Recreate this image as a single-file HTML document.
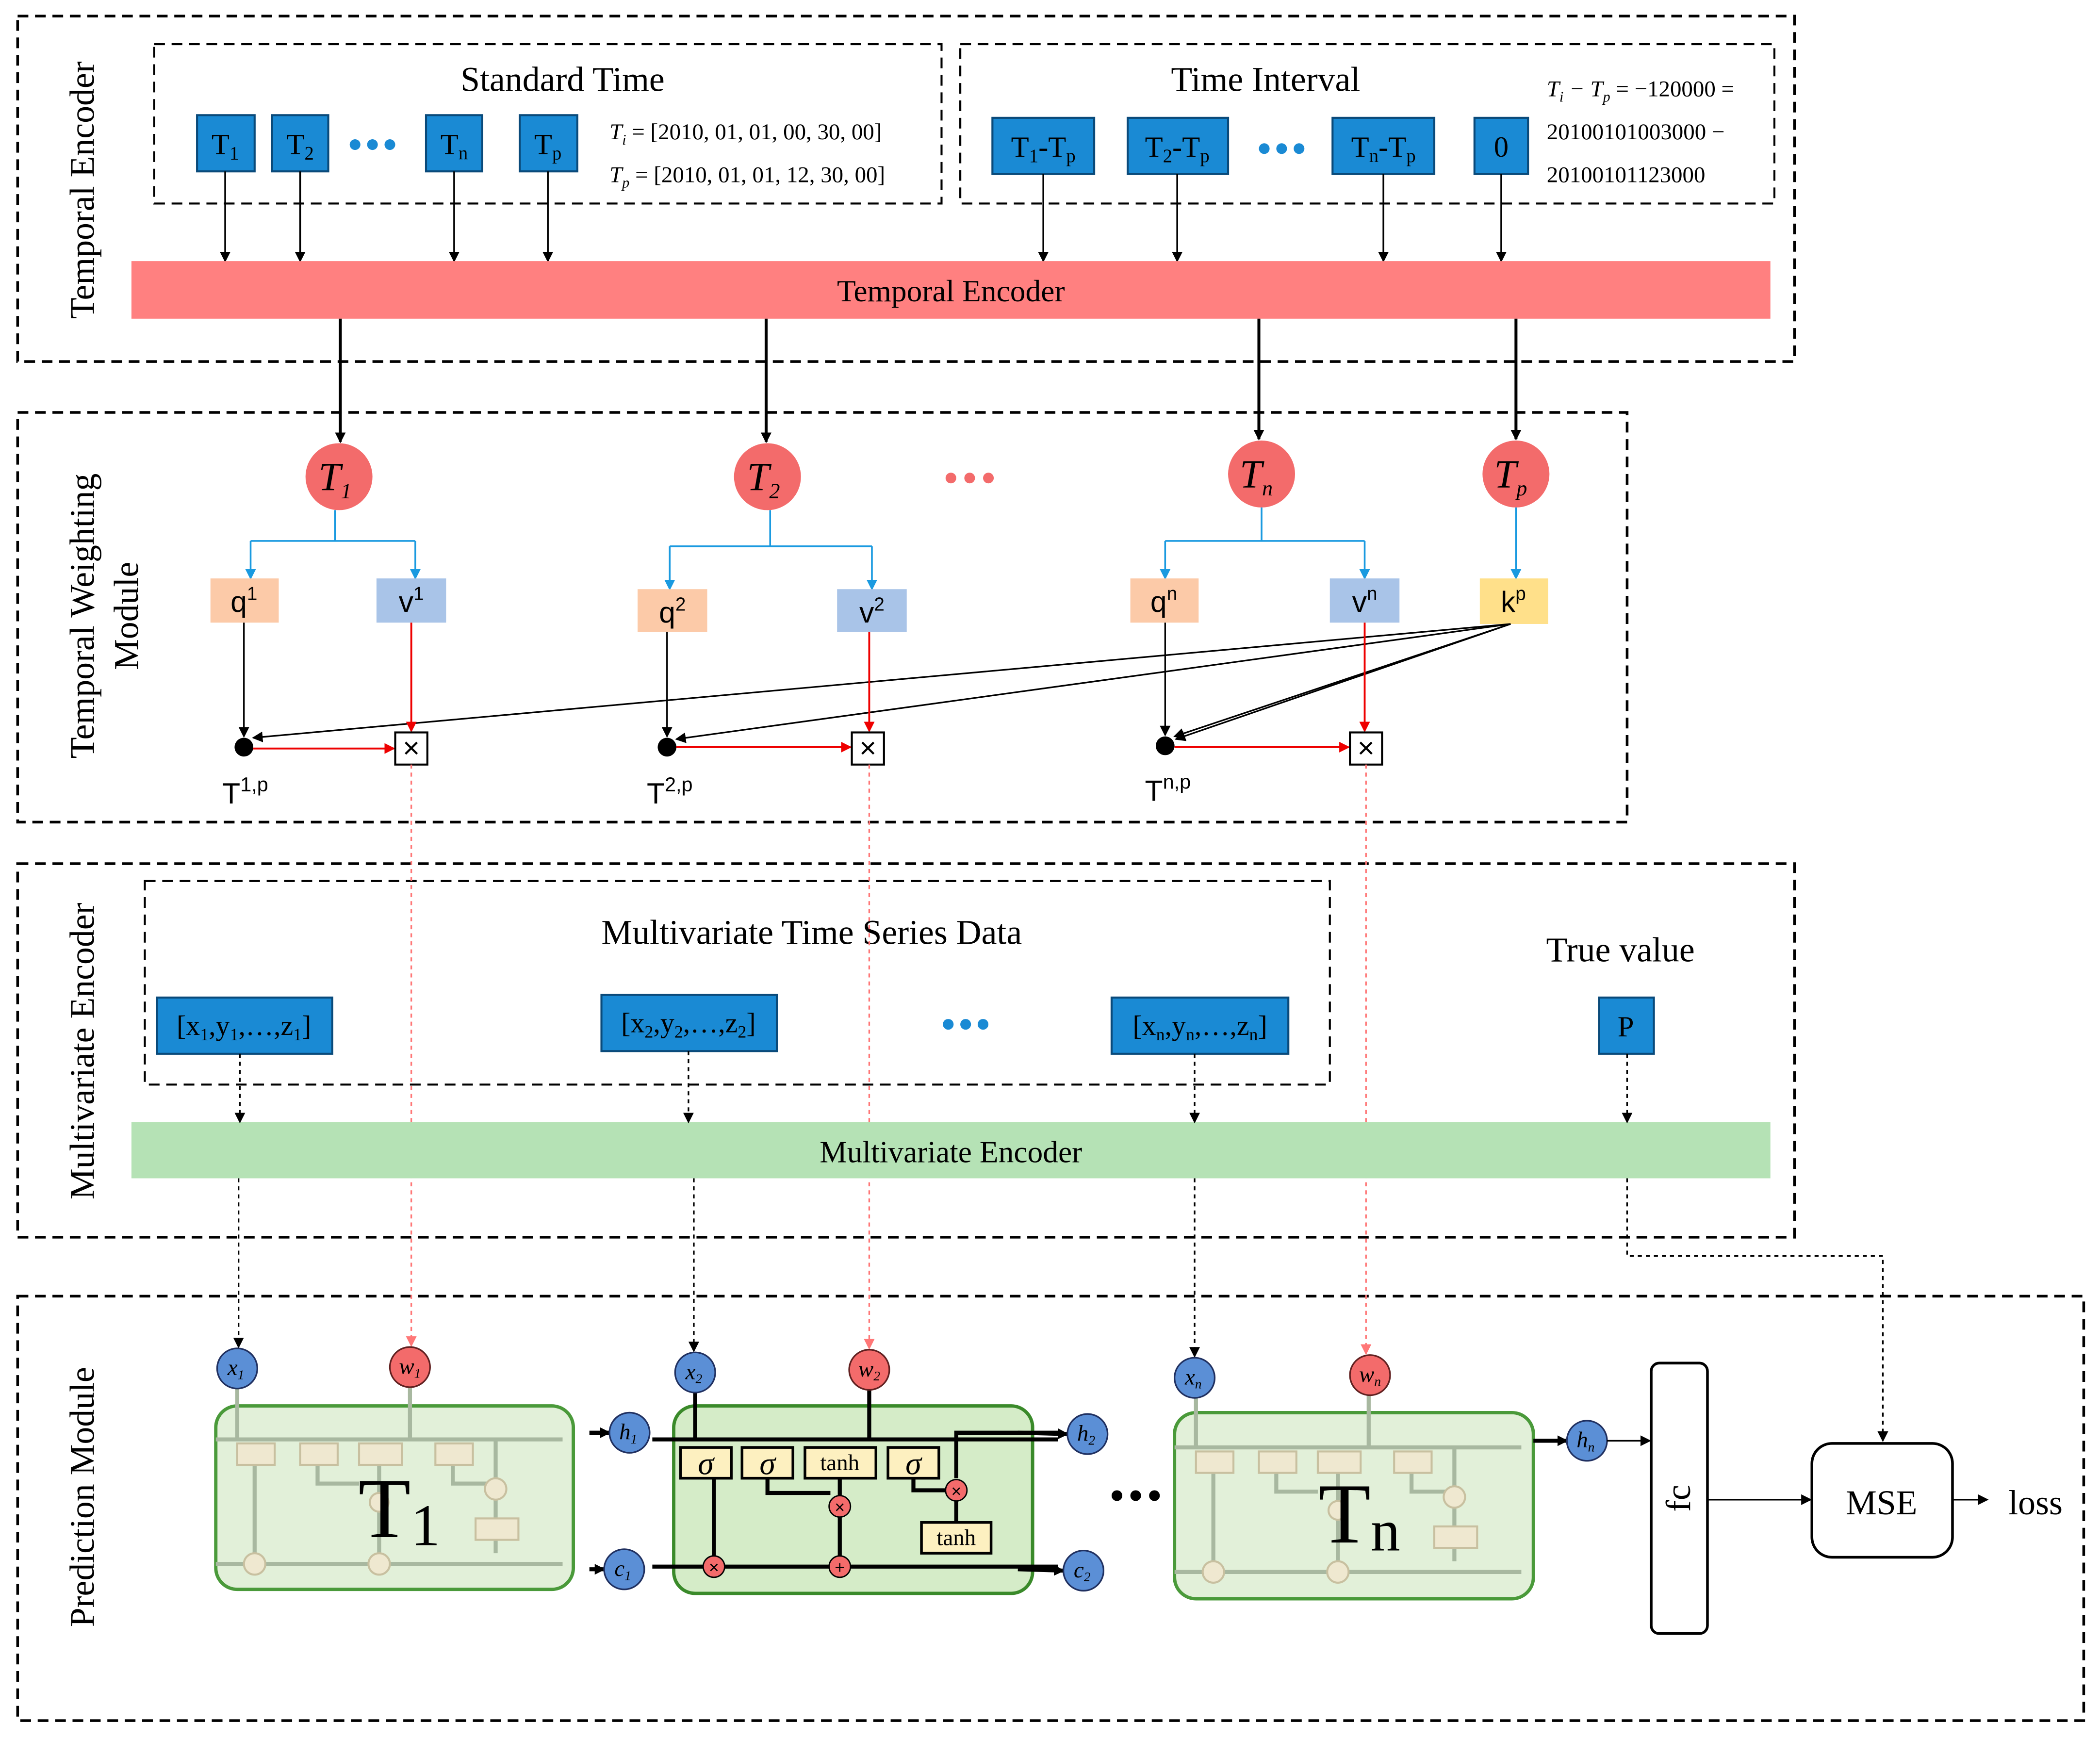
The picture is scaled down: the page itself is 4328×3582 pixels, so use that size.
<!DOCTYPE html>
<html><head><meta charset="utf-8"><style>
html,body{margin:0;padding:0;background:#fff}
svg{display:block}
text{font-family:"Liberation Serif",serif}
.s{font-family:"Liberation Sans",sans-serif}
</style></head><body>
<svg width="4328" height="3582" viewBox="0 0 1568 1298" xmlns="http://www.w3.org/2000/svg">
<defs>
<marker id="ab" markerWidth="8" markerHeight="8" refX="7" refY="4" orient="auto" markerUnits="userSpaceOnUse"><path d="M0,0 L8,4 L0,8 Z" fill="#000"/></marker>
<marker id="ar" markerWidth="8" markerHeight="8" refX="7" refY="4" orient="auto" markerUnits="userSpaceOnUse"><path d="M0,0 L8,4 L0,8 Z" fill="#e00"/></marker>
<marker id="al" markerWidth="8" markerHeight="8" refX="7" refY="4" orient="auto" markerUnits="userSpaceOnUse"><path d="M0,0 L8,4 L0,8 Z" fill="#f77"/></marker>
<marker id="abl" markerWidth="8" markerHeight="8" refX="7" refY="4" orient="auto" markerUnits="userSpaceOnUse"><path d="M0,0 L8,4 L0,8 Z" fill="#1a9ae0"/></marker>
</defs>
<g fill="none" stroke="#000" stroke-width="2" stroke-dasharray="8,5">
<rect x="13" y="12" width="1327" height="258"/>
<rect x="13" y="308" width="1202" height="306"/>
<rect x="13" y="645" width="1327" height="279"/>
<rect x="13" y="968" width="1543" height="317"/>
<rect x="115" y="33" width="588" height="119" stroke-width="1.5"/>
<rect x="717" y="33" width="608" height="119" stroke-width="1.5"/>
<rect x="108" y="658" width="885" height="152" stroke-width="1.5"/>
</g>
<g font-size="26" text-anchor="middle">
<text transform="translate(70,142) rotate(-90)">Temporal Encoder</text>
<text transform="translate(70,460) rotate(-90)">Temporal Weighting</text>
<text transform="translate(103,460) rotate(-90)">Module</text>
<text transform="translate(70,785) rotate(-90)">Multivariate Encoder</text>
<text transform="translate(70,1118) rotate(-90)">Prediction Module</text>
<text x="420" y="68">Standard Time</text>
<text x="945" y="68">Time Interval</text>
<text x="606" y="705">Multivariate Time Series Data</text>
<text x="1210" y="718">True value</text>
</g>
<g fill="#1a8ad4" stroke="#0a4a7a" stroke-width="1.5">
<rect x="147" y="86" width="43" height="42"/><rect x="203" y="86" width="42" height="42"/>
<rect x="318" y="86" width="42" height="42"/><rect x="388" y="86" width="43" height="42"/>
<rect x="741" y="88" width="76" height="42"/><rect x="842" y="88" width="75" height="42"/>
<rect x="995" y="88" width="76" height="42"/><rect x="1101" y="88" width="40" height="42"/>
<rect x="117" y="745" width="131" height="42"/><rect x="449" y="743" width="131" height="42"/>
<rect x="830" y="745" width="132" height="42"/><rect x="1194" y="745" width="41" height="42"/>
</g>
<g font-size="22" text-anchor="middle" fill="#000">
<text x="168" y="115">T<tspan font-size="14" dy="4">1</tspan></text>
<text x="224" y="115">T<tspan font-size="14" dy="4">2</tspan></text>
<text x="339" y="115">T<tspan font-size="14" dy="4">n</tspan></text>
<text x="409" y="115">T<tspan font-size="14" dy="4">p</tspan></text>
<text x="779" y="117">T<tspan font-size="14" dy="4">1</tspan><tspan dy="-4">-T</tspan><tspan font-size="14" dy="4">p</tspan></text>
<text x="879" y="117">T<tspan font-size="14" dy="4">2</tspan><tspan dy="-4">-T</tspan><tspan font-size="14" dy="4">p</tspan></text>
<text x="1033" y="117">T<tspan font-size="14" dy="4">n</tspan><tspan dy="-4">-T</tspan><tspan font-size="14" dy="4">p</tspan></text>
<text x="1121" y="117">0</text>
<text x="182" y="773" font-size="21">[x<tspan font-size="13" dy="4">1</tspan><tspan dy="-4">,y</tspan><tspan font-size="13" dy="4">1</tspan><tspan dy="-4">,…,z</tspan><tspan font-size="13" dy="4">1</tspan><tspan dy="-4">]</tspan></text>
<text x="514" y="771" font-size="21">[x<tspan font-size="13" dy="4">2</tspan><tspan dy="-4">,y</tspan><tspan font-size="13" dy="4">2</tspan><tspan dy="-4">,…,z</tspan><tspan font-size="13" dy="4">2</tspan><tspan dy="-4">]</tspan></text>
<text x="896" y="773" font-size="21">[x<tspan font-size="13" dy="4">n</tspan><tspan dy="-4">,y</tspan><tspan font-size="13" dy="4">n</tspan><tspan dy="-4">,…,z</tspan><tspan font-size="13" dy="4">n</tspan><tspan dy="-4">]</tspan></text>
<text x="1214" y="774">P</text>
</g>
<g fill="#1a8ad4"><circle cx="265" cy="108" r="4"/><circle cx="278" cy="108" r="4"/><circle cx="291" cy="108" r="4"/>
<circle cx="944" cy="111" r="4"/><circle cx="957" cy="111" r="4"/><circle cx="970" cy="111" r="4"/>
<circle cx="708" cy="765" r="4"/><circle cx="721" cy="765" r="4"/><circle cx="734" cy="765" r="4"/></g>
<g font-size="17" font-style="italic">
<text x="455" y="104">T<tspan font-size="11" dy="4">i</tspan><tspan dy="-4" font-style="normal"> = [2010, 01, 01, 00, 30, 00]</tspan></text>
<text x="455" y="136">T<tspan font-size="11" dy="4">p</tspan><tspan dy="-4" font-style="normal"> = [2010, 01, 01, 12, 30, 00]</tspan></text>
<text x="1155" y="72">T<tspan font-size="11" dy="4">i</tspan><tspan dy="-4"> − T</tspan><tspan font-size="11" dy="4">p</tspan><tspan dy="-4" font-style="normal"> = −120000 =</tspan></text>
<text x="1155" y="104" font-style="normal">20100101003000 −</text>
<text x="1155" y="136" font-style="normal">20100101123000</text>
</g>
<g stroke="#000" stroke-width="1.3" marker-end="url(#ab)">
<line x1="168" y1="128" x2="168" y2="195"/><line x1="224" y1="128" x2="224" y2="195"/>
<line x1="339" y1="128" x2="339" y2="195"/><line x1="409" y1="128" x2="409" y2="195"/>
<line x1="779" y1="130" x2="779" y2="195"/><line x1="879" y1="130" x2="879" y2="195"/>
<line x1="1033" y1="130" x2="1033" y2="195"/><line x1="1121" y1="130" x2="1121" y2="195"/>
</g>
<rect x="98" y="195" width="1224" height="43" fill="#ff8080"/>
<text x="710" y="225" font-size="23" text-anchor="middle">Temporal Encoder</text>
<g stroke="#000" stroke-width="2.2" marker-end="url(#ab)">
<line x1="254" y1="238" x2="254" y2="330"/><line x1="572" y1="238" x2="572" y2="330"/>
<line x1="940" y1="238" x2="940" y2="328"/><line x1="1132" y1="238" x2="1132" y2="328"/>
</g>
<g fill="#f36b6b"><circle cx="253" cy="356" r="25"/><circle cx="573" cy="356" r="25"/><circle cx="942" cy="354" r="25"/><circle cx="1132" cy="354" r="25"/>
<circle cx="710" cy="357" r="4"/><circle cx="724" cy="357" r="4"/><circle cx="738" cy="357" r="4"/></g>
<g font-size="30" font-style="italic" text-anchor="middle">
<text x="250" y="366">T<tspan font-size="16" dy="6">1</tspan></text>
<text x="570" y="366">T<tspan font-size="16" dy="6">2</tspan></text>
<text x="938" y="364">T<tspan font-size="16" dy="6">n</tspan></text>
<text x="1128" y="364">T<tspan font-size="16" dy="6">p</tspan></text>
</g>
<g stroke="#1a9ae0" stroke-width="1.3" fill="none">
<path d="M250,381 V404 M187,404 H310 M575,381 V408 M500,408 H651 M942,379 V404 M870,404 H1019"/>
<g marker-end="url(#abl)"><line x1="187" y1="404" x2="187" y2="432"/><line x1="310" y1="404" x2="310" y2="432"/>
<line x1="500" y1="408" x2="500" y2="440"/><line x1="651" y1="408" x2="651" y2="440"/>
<line x1="870" y1="404" x2="870" y2="432"/><line x1="1019" y1="404" x2="1019" y2="432"/>
<line x1="1132" y1="379" x2="1132" y2="432"/></g>
</g>
<rect x="157" y="432" width="51" height="33" fill="#fccaa8"/><rect x="281" y="432" width="52" height="33" fill="#a9c4e8"/>
<rect x="476" y="440" width="52" height="32" fill="#fccaa8"/><rect x="625" y="440" width="52" height="32" fill="#a9c4e8"/>
<rect x="844" y="432" width="51" height="33" fill="#fccaa8"/><rect x="993" y="432" width="52" height="33" fill="#a9c4e8"/>
<rect x="1105" y="432" width="51" height="34" fill="#ffe08a"/>
<g class="s" font-size="22" text-anchor="middle">
<text class="s" x="182" y="457">q<tspan font-size="14" dy="-9">1</tspan></text>
<text class="s" x="307" y="457">v<tspan font-size="14" dy="-9">1</tspan></text>
<text class="s" x="502" y="465">q<tspan font-size="14" dy="-9">2</tspan></text>
<text class="s" x="651" y="465">v<tspan font-size="14" dy="-9">2</tspan></text>
<text class="s" x="869" y="457">q<tspan font-size="14" dy="-9">n</tspan></text>
<text class="s" x="1019" y="457">v<tspan font-size="14" dy="-9">n</tspan></text>
<text class="s" x="1130" y="457">k<tspan font-size="14" dy="-9">p</tspan></text>
<text class="s" x="183" y="600">T<tspan font-size="15" dy="-9">1,p</tspan></text>
<text class="s" x="500" y="600">T<tspan font-size="15" dy="-9">2,p</tspan></text>
<text class="s" x="872" y="598">T<tspan font-size="15" dy="-9">n,p</tspan></text>
</g>
<g stroke="#000" stroke-width="1.2" marker-end="url(#ab)">
<line x1="182" y1="465" x2="182" y2="550"/><line x1="498" y1="472" x2="498" y2="550"/><line x1="870" y1="465" x2="870" y2="549"/>
<line x1="1128" y1="466" x2="189" y2="551"/><line x1="1128" y1="466" x2="505" y2="552"/>
<line x1="1128" y1="466" x2="877" y2="550"/><line x1="1128" y1="466" x2="878" y2="552"/>
</g>
<g fill="#000"><circle cx="182" cy="558" r="7"/><circle cx="498" cy="558" r="7"/><circle cx="870" cy="557" r="7"/></g>
<g stroke="#e00" stroke-width="1.4" marker-end="url(#ar)">
<line x1="307" y1="465" x2="307" y2="546"/><line x1="649" y1="472" x2="649" y2="546"/><line x1="1019" y1="465" x2="1019" y2="546"/>
<line x1="189" y1="559" x2="294" y2="559"/><line x1="505" y1="558" x2="635" y2="558"/><line x1="877" y1="558" x2="1007" y2="558"/>
</g>
<g fill="#fff" stroke="#000" stroke-width="1.5">
<rect x="295" y="547" width="24" height="24"/><rect x="636" y="547" width="24" height="24"/><rect x="1008" y="547" width="24" height="24"/></g>
<g font-size="22" text-anchor="middle" class="s"><text class="s" x="307" y="566">×</text><text class="s" x="648" y="566">×</text><text class="s" x="1020" y="566">×</text></g>
<g stroke="#f77" stroke-width="1.2" stroke-dasharray="3,3" marker-end="url(#al)">
<line x1="307" y1="571" x2="307" y2="1005"/><line x1="649" y1="571" x2="649" y2="1007"/><line x1="1020" y1="571" x2="1020" y2="1011"/>
</g>
<rect x="98" y="838" width="1224" height="42" fill="#b5e2b5"/>
<text x="710" y="868" font-size="23" text-anchor="middle">Multivariate Encoder</text>
<g stroke="#000" stroke-width="1.2" stroke-dasharray="3,3" fill="none" marker-end="url(#ab)">
<line x1="179" y1="787" x2="179" y2="838"/><line x1="514" y1="785" x2="514" y2="838"/>
<line x1="892" y1="787" x2="892" y2="838"/><line x1="1215" y1="787" x2="1215" y2="838"/>
<line x1="178" y1="880" x2="178" y2="1006"/><line x1="518" y1="880" x2="518" y2="1009"/><line x1="892" y1="880" x2="892" y2="1013"/>
<path d="M1215,880 V938 H1406 V1076"/>
</g>
<rect x="161" y="1050" width="267" height="137" rx="16" fill="#e2f0d9" stroke="#4a9a3a" stroke-width="2.5"/>
<rect x="503" y="1050" width="268" height="140" rx="16" fill="#d5ecc8" stroke="#3a8a2a" stroke-width="2.5"/>
<rect x="877" y="1055" width="268" height="139" rx="16" fill="#e2f0d9" stroke="#4a9a3a" stroke-width="2.5"/>
<g id="fade" stroke="#a8b8a0" stroke-width="3" fill="none">
<path d="M161,1075 H420 M161,1168 H420 M177,1037 V1075 M306,1036 V1075 M190,1085 V1160 M237,1092 V1108 H268 M283,1092 V1160 M338,1092 V1108 H366 M370,1122 V1160 M370,1140 V1075 H420"/>
<g fill="#efe8d0" stroke="#c8c0a0" stroke-width="1.5"><rect x="177" y="1078" width="28" height="16"/><rect x="224" y="1078" width="28" height="16"/><rect x="268" y="1078" width="32" height="16"/><rect x="325" y="1078" width="28" height="16"/><rect x="355" y="1134" width="32" height="16"/>
<circle cx="190" cy="1168" r="8"/><circle cx="283" cy="1168" r="8"/><circle cx="283" cy="1122" r="7"/><circle cx="370" cy="1112" r="8"/></g>
</g>
<use href="#fade" transform="translate(716,6)"/>
<text x="298" y="1148" font-size="64" text-anchor="middle">T<tspan font-size="44" dy="6">1</tspan></text>
<text x="1015" y="1152" font-size="64" text-anchor="middle">T<tspan font-size="44" dy="6">n</tspan></text>
<g stroke="#000" stroke-width="3" fill="none">
<path d="M487,1075 H790 M487,1170 H790 M519,1040 V1075 M649,1038 V1075 M533,1104 V1162 M573,1104 V1115 H620 M627,1104 V1162 M682,1104 V1113 H706 M714,1121 V1137 M714,1104 V1070 H790"/>
</g>
<g stroke="#000" stroke-width="3" marker-end="url(#ab)"><line x1="440" y1="1070" x2="455" y2="1070"/><line x1="440" y1="1172" x2="451" y2="1172"/>
<line x1="760" y1="1070" x2="797" y2="1071"/><line x1="760" y1="1172" x2="794" y2="1173"/><line x1="1145" y1="1076" x2="1170" y2="1076"/></g>
<g fill="#fdf0c0" stroke="#000" stroke-width="2">
<rect x="508" y="1081" width="38" height="23"/><rect x="554" y="1081" width="38" height="23"/><rect x="601" y="1081" width="53" height="23"/><rect x="663" y="1081" width="38" height="23"/><rect x="688" y="1137" width="52" height="23"/></g>
<g font-size="24" font-style="italic" text-anchor="middle"><text x="527" y="1101">σ</text><text x="573" y="1101">σ</text><text x="682" y="1101">σ</text></g>
<g font-size="17" text-anchor="middle"><text x="627" y="1098">tanh</text><text x="714" y="1154">tanh</text></g>
<g fill="#f36b6b" stroke="#000" stroke-width="1"><circle cx="533" cy="1170" r="8"/><circle cx="627" cy="1170" r="8"/><circle cx="627" cy="1125" r="8"/><circle cx="714" cy="1113" r="8"/></g>
<g font-size="13" text-anchor="middle" class="s"><text class="s" x="533" y="1175">×</text><text class="s" x="627" y="1175">+</text><text class="s" x="627" y="1130">×</text><text class="s" x="714" y="1118">×</text></g>
<g fill="#5b8fd6" stroke="#203060" stroke-width="1.2">
<circle cx="177" cy="1022" r="15"/><circle cx="470" cy="1070" r="15"/><circle cx="466" cy="1172" r="15"/>
<circle cx="519" cy="1025" r="15"/><circle cx="812" cy="1071" r="15"/><circle cx="809" cy="1173" r="15"/>
<circle cx="892" cy="1029" r="15"/><circle cx="1185" cy="1076" r="15"/></g>
<g fill="#f36b6b" stroke="#602020" stroke-width="1.2"><circle cx="306" cy="1021" r="15"/><circle cx="649" cy="1023" r="15"/><circle cx="1023" cy="1027" r="15"/></g>
<g font-size="17" font-style="italic" text-anchor="middle">
<text x="176" y="1027">x<tspan font-size="10" dy="3">1</tspan></text><text x="306" y="1026">w<tspan font-size="10" dy="3">1</tspan></text>
<text x="469" y="1075">h<tspan font-size="10" dy="3">1</tspan></text><text x="465" y="1177">c<tspan font-size="10" dy="3">1</tspan></text>
<text x="518" y="1030">x<tspan font-size="10" dy="3">2</tspan></text><text x="649" y="1028">w<tspan font-size="10" dy="3">2</tspan></text>
<text x="811" y="1076">h<tspan font-size="10" dy="3">2</tspan></text><text x="808" y="1178">c<tspan font-size="10" dy="3">2</tspan></text>
<text x="891" y="1034">x<tspan font-size="10" dy="3">n</tspan></text><text x="1023" y="1032">w<tspan font-size="10" dy="3">n</tspan></text>
<text x="1184" y="1081">h<tspan font-size="10" dy="3">n</tspan></text>
</g>
<g fill="#000"><circle cx="834" cy="1117" r="4"/><circle cx="848" cy="1117" r="4"/><circle cx="862" cy="1117" r="4"/></g>
<rect x="1233" y="1018" width="42" height="202" rx="6" fill="#fff" stroke="#000" stroke-width="2"/>
<text transform="translate(1262,1119) rotate(-90)" font-size="26" text-anchor="middle">fc</text>
<rect x="1353" y="1078" width="105" height="85" rx="15" fill="#fff" stroke="#000" stroke-width="2"/>
<text x="1405" y="1131" font-size="26" text-anchor="middle">MSE</text>
<text x="1520" y="1131" font-size="26" text-anchor="middle">loss</text>
<g stroke="#000" stroke-width="1.2" marker-end="url(#ab)">
<line x1="1200" y1="1076" x2="1232" y2="1076"/><line x1="1275" y1="1120" x2="1352" y2="1120"/><line x1="1458" y1="1120" x2="1484" y2="1120"/></g>
</svg>
</body></html>
